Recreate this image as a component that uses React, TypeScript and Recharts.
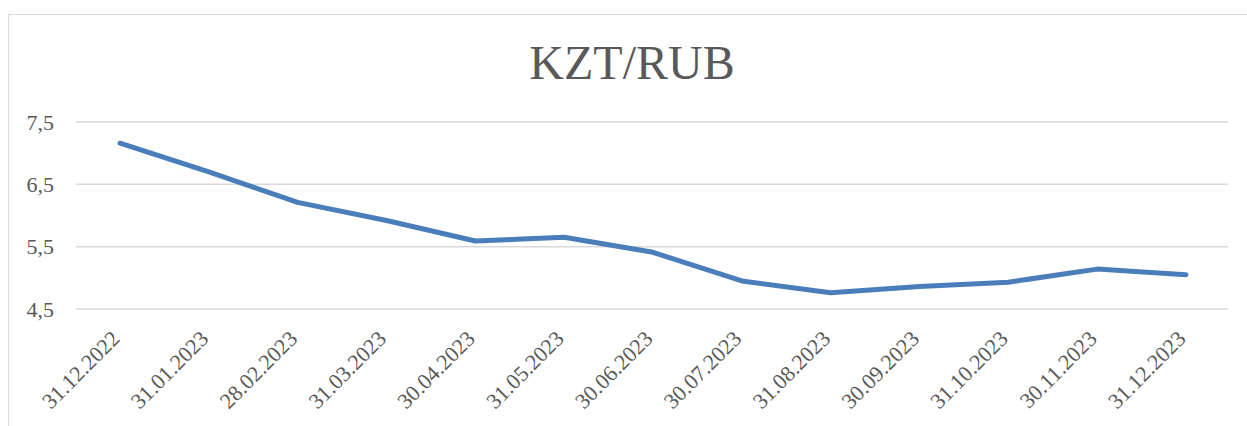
import React from "react";
import { LineChart, Line, XAxis, YAxis, CartesianGrid } from "recharts";

const dates = [
  "31.12.2022", "31.01.2023", "28.02.2023", "31.03.2023", "30.04.2023",
  "31.05.2023", "30.06.2023", "30.07.2023", "31.08.2023", "30.09.2023",
  "31.10.2023", "30.11.2023", "31.12.2023",
];
const kztRub = [7.16, 6.7, 6.21, 5.92, 5.59, 5.65, 5.41, 4.95, 4.76, 4.86, 4.93, 5.14, 5.05];
const yTicks = [4.5, 5.5, 6.5, 7.5];

const data = dates.map((d, i) => ({ date: d, value: kztRub[i] }));

const FONT = "'Liberation Serif', 'Times New Roman', serif";
const TEXT = "#595959";
const GRID = "#d9d9d9";

const DateTick = (props: any) => {
  const { x, y, payload } = props;
  const tx = x + 1;
  const ty = y + 31;
  return (
    <text
      x={tx}
      y={ty}
      transform={`rotate(-45, ${tx}, ${ty})`}
      textAnchor="end"
      fill={TEXT}
      fontSize={22}
      fontFamily={FONT}
    >
      {payload.value}
    </text>
  );
};

export default function App() {
  return (
    <div
      style={{
        position: "fixed", left: 8, top: 14, width: 1239, height: 412,
        borderTop: `1px solid ${GRID}`, borderLeft: `1px solid ${GRID}`,
        background: "#fff", overflow: "hidden",
      }}
    >
      <div
        style={{
          position: "absolute", left: 0, width: 1246, top: 24,
          textAlign: "center", fontFamily: FONT, fontSize: 48, lineHeight: "48px", color: TEXT,
        }}
      >
        KZT/RUB
      </div>
      <LineChart width={1238} height={411} data={data} margin={{ top: 107, right: 19, bottom: 0, left: 0 }}>
        <CartesianGrid horizontal vertical={false} stroke={GRID} strokeWidth={1.5} />
        <XAxis
          dataKey="date"
          interval={0}
          height={117}
          axisLine={false}
          tickLine={false}
          tickSize={0}
          tickMargin={0}
          padding={{ left: 44, right: 42 }}
          tick={<DateTick />}
        />
        <YAxis
          width={67}
          domain={[4.5, 7.5]}
          ticks={yTicks}
          axisLine={false}
          tickLine={false}
          tickSize={0}
          tickMargin={22}
          tick={{ fontSize: 22, fill: TEXT, fontFamily: FONT }}
          tickFormatter={(v) => String(v).replace(".", ",")}
        />
        <Line
          type="linear"
          dataKey="value"
          stroke="#4a7ebb"
          strokeWidth={5}
          strokeLinecap="round"
          strokeLinejoin="round"
          dot={false}
          activeDot={false}
          isAnimationActive={false}
        />
      </LineChart>
    </div>
  );
}
